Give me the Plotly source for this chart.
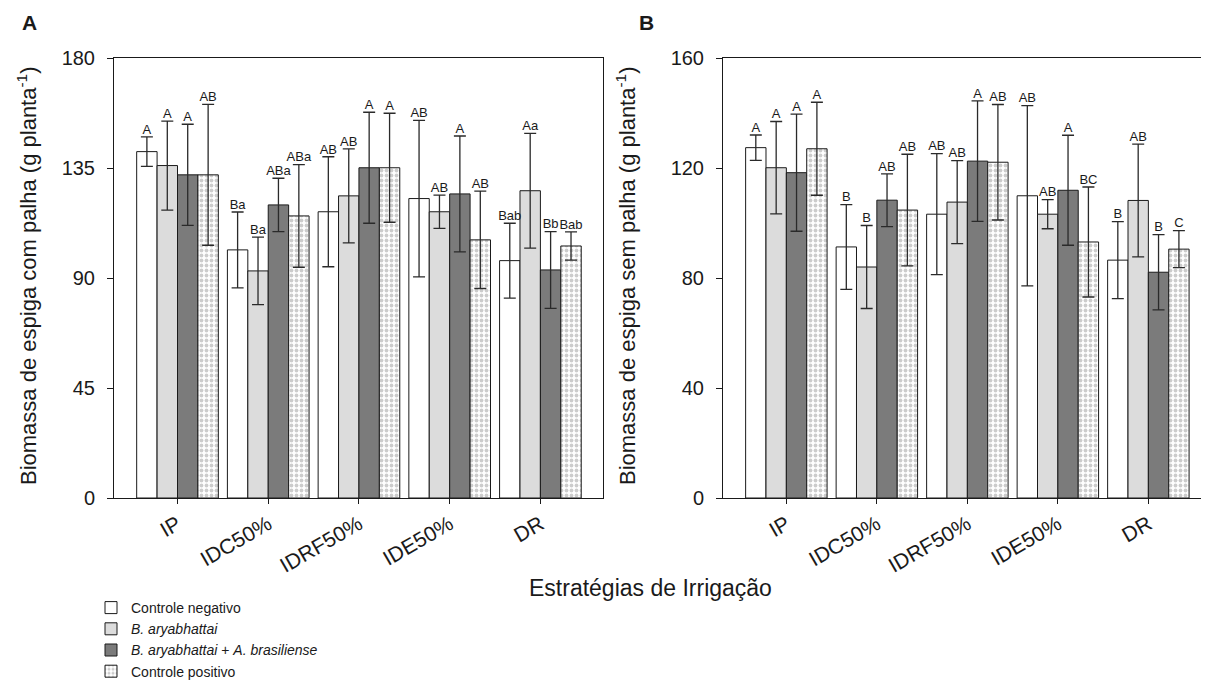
import plotly.graph_objects as go

# ---------------- data ----------------
categories = ["IP", "IDC50%", "IDRF50%", "IDE50%", "DR"]
series_names = ["Controle negativo", "<i>B. aryabhattai</i>",
                "<i>B. aryabhattai</i> + <i>A. brasiliense</i>", "Controle positivo"]

# Panel A: Biomassa de espiga com palha
cn_A = [141.7, 101.5, 117.1, 122.5, 97.1]
cn_A_err = [6.0, 15.5, 22.5, 32.0, 15.3]
ba_A = [136.0, 92.9, 123.6, 117.1, 125.7]
ba_A_err = [18.2, 13.8, 19.2, 6.8, 23.5]
baaz_A = [132.2, 119.9, 135.1, 124.4, 93.3]
baaz_A_err = [20.7, 10.9, 22.7, 23.7, 15.7]
cp_A = [132.2, 115.4, 135.1, 105.6, 103.1]
cp_A_err = [28.8, 21.0, 22.3, 19.9, 5.8]

cn_A_lbl = ["A", "Ba", "AB", "AB", "Bab"]
ba_A_lbl = ["A", "Ba", "AB", "AB", "Aa"]
baaz_A_lbl = ["A", "ABa", "A", "A", "Bb"]
cp_A_lbl = ["AB", "ABa", "A", "AB", "Bab"]

# Panel B: Biomassa de espiga sem palha
cn_B = [127.4, 91.3, 103.2, 109.9, 86.5]
cn_B_err = [4.6, 15.4, 22.0, 32.8, 14.0]
ba_B = [120.1, 84.0, 107.6, 103.2, 108.2]
ba_B_err = [16.8, 15.1, 15.1, 5.3, 20.5]
baaz_B = [118.3, 108.3, 122.5, 111.9, 82.1]
baaz_B_err = [21.3, 9.6, 21.9, 20.0, 13.7]
cp_B = [127.0, 104.7, 122.1, 93.1, 90.5]
cp_B_err = [16.9, 20.3, 21.0, 20.0, 6.7]

cn_B_lbl = ["A", "B", "AB", "AB", "B"]
ba_B_lbl = ["A", "B", "AB", "AB", "AB"]
baaz_B_lbl = ["A", "AB", "A", "A", "B"]
cp_B_lbl = ["A", "AB", "AB", "BC", "C"]

yticks_A = [0, 45, 90, 135, 180]
yticks_B = [0, 40, 80, 120, 160]

# ---------------- styling ----------------
FONT = "Liberation Sans, Arial, sans-serif"
fills = ["#ffffff", "#dcdcdc", "#7b7b7b", "#ffffff"]
patterns = [None, None, None, dict(shape=".", size=5, solidity=0.45,
                                  fgcolor="#9a9a9a", bgcolor="#ffffff",
                                  fillmode="overlay")]

fig = go.Figure()

panels = [
    ("x", "y", [cn_A, ba_A, baaz_A, cp_A],
     [cn_A_err, ba_A_err, baaz_A_err, cp_A_err],
     [cn_A_lbl, ba_A_lbl, baaz_A_lbl, cp_A_lbl], True),
    ("x2", "y2", [cn_B, ba_B, baaz_B, cp_B],
     [cn_B_err, ba_B_err, baaz_B_err, cp_B_err],
     [cn_B_lbl, ba_B_lbl, baaz_B_lbl, cp_B_lbl], False),
]

for xa, ya, vals, errs, lbls, show in panels:
    for j in range(4):
        marker = dict(color=fills[j], line=dict(color="#1a1a1a", width=1))
        if patterns[j] is not None:
            marker["pattern"] = patterns[j]
        fig.add_trace(go.Bar(
            x=categories, y=vals[j], name=series_names[j],
            marker=marker, xaxis=xa, yaxis=ya,
            offsetgroup=str(j), alignmentgroup=xa,
            error_y=dict(type="data", array=errs[j], visible=True,
                         color="#2a2a2a", thickness=1.3, width=6),
            showlegend=show, legendgroup=str(j),
        ))
    for j in range(4):
        tops = [v + e for v, e in zip(vals[j], errs[j])]
        fig.add_trace(go.Scatter(
            x=categories, y=tops, text=lbls[j], mode="text",
            textposition="top center",
            textfont=dict(family=FONT, size=13, color="#1a1a1a"),
            xaxis=xa, yaxis=ya, offsetgroup=str(j), alignmentgroup=xa,
            showlegend=False, hoverinfo="skip", cliponaxis=False,
        ))

# the page body adds an 8 px offset; build the figure in page pixels
OFF = 8
W, H = 1209 - OFF, 682 - OFF


def fx(px):
    return (px - OFF) / W


def fy(py):
    return (H - (py - OFF)) / H


ydom = [fy(498), fy(58)]

base = dict(showline=True, linecolor="#1a1a1a", linewidth=1,
            mirror=True, ticks="outside", tickcolor="#1a1a1a",
            showgrid=False, zeroline=False, automargin=False)
xfont = dict(family=FONT, size=21, color="#1a1a1a")
yfont = dict(family=FONT, size=20, color="#1a1a1a")

fig.update_layout(
    template="none",
    width=W, height=H,
    margin=dict(l=0, r=0, t=0, b=0, autoexpand=False),
    paper_bgcolor="white", plot_bgcolor="white",
    barmode="group", bargap=0.1, bargroupgap=0,
    scattermode="group", scattergap=0.1,
    font=dict(family=FONT, color="#1a1a1a"),
    xaxis=dict(domain=[fx(114), fx(603)], range=[-0.70, 4.69],
               tickangle=-30, ticklen=5, anchor="y", tickfont=xfont, **base),
    yaxis=dict(domain=ydom, range=[0, 180], tickvals=yticks_A,
               ticklen=6, anchor="x", tickfont=yfont, ticklabelstandoff=8, **base),
    xaxis2=dict(domain=[fx(723), 1.0], range=[-0.70, 4.67],
                tickangle=-30, ticklen=5, anchor="y2", tickfont=xfont, **base),
    yaxis2=dict(domain=ydom, range=[0, 160], tickvals=yticks_B,
                ticklen=6, anchor="x2", tickfont=yfont, ticklabelstandoff=8, **base),
    legend=dict(x=fx(91), y=fy(592), xanchor="left", yanchor="top",
                font=dict(family=FONT, size=14, color="#1a1a1a"),
                bgcolor="rgba(0,0,0,0)", borderwidth=0,
                tracegroupgap=0, itemwidth=30),
    showlegend=True,
)

annotations = [
    dict(text="<b>A</b>", x=fx(20), y=fy(22), xref="paper", yref="paper",
         showarrow=False, font=dict(family=FONT, size=21), xanchor="left", yanchor="middle"),
    dict(text="<b>B</b>", x=fx(637), y=fy(22), xref="paper", yref="paper",
         showarrow=False, font=dict(family=FONT, size=21), xanchor="left", yanchor="middle"),
    dict(text="Biomassa de espiga com palha (g planta<sup>-1</sup>)",
         x=fx(27), y=fy(276), xref="paper", yref="paper", textangle=-90,
         showarrow=False, font=dict(family=FONT, size=22), xanchor="center", yanchor="middle"),
    dict(text="Biomassa de espiga sem palha (g planta<sup>-1</sup>)",
         x=fx(626), y=fy(276), xref="paper", yref="paper", textangle=-90,
         showarrow=False, font=dict(family=FONT, size=22), xanchor="center", yanchor="middle"),
    dict(text="Estratégias de Irrigação",
         x=fx(650), y=fy(588), xref="paper", yref="paper",
         showarrow=False, font=dict(family=FONT, size=23), xanchor="center", yanchor="middle"),
]
fig.update_layout(annotations=annotations)

fig.write_html("out.html")
